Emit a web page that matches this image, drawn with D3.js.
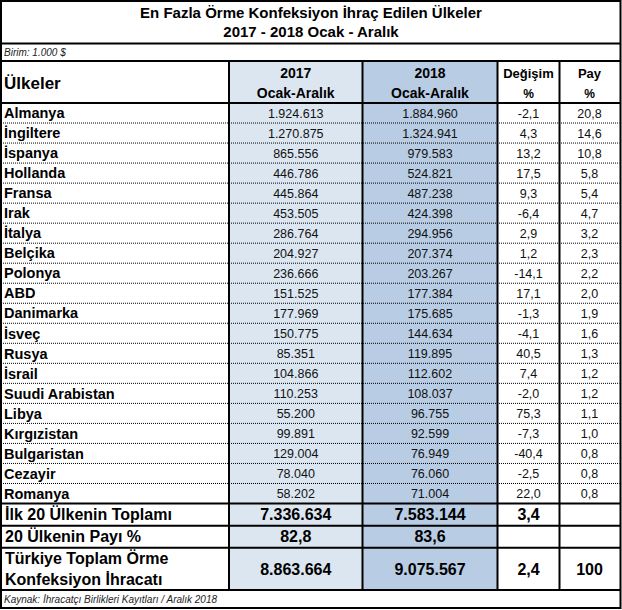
<!DOCTYPE html>
<html><head><meta charset="utf-8">
<script src="https://cdn.jsdelivr.net/npm/d3@7"></script>
<style>body{margin:0;background:#fff}svg{display:block;font-family:"Liberation Sans",Arial,sans-serif}</style>
</head><body>
<script>
const countries = ["Almanya","İngiltere","İspanya","Hollanda","Fransa","Irak","İtalya","Belçika","Polonya","ABD","Danimarka","İsveç","Rusya","İsrail","Suudi Arabistan","Libya","Kırgızistan","Bulgaristan","Cezayir","Romanya"];
const v2017 = [1924613,1270875,865556,446786,445864,453505,286764,204927,236666,151525,177969,150775,85351,104866,110253,55200,99891,129004,78040,58202];
const v2018 = [1884960,1324941,979583,524821,487238,424398,294956,207374,203267,177384,175685,144634,119895,112602,108037,96755,92599,76949,76060,71004];
const change = [-2.1,4.3,13.2,17.5,9.3,-6.4,2.9,1.2,-14.1,17.1,-1.3,-4.1,40.5,7.4,-2.0,75.3,-7.3,-40.4,-2.5,22.0];
const share = [20.8,14.6,10.8,5.8,5.4,4.7,3.2,2.3,2.2,2.0,1.9,1.6,1.3,1.2,1.2,1.1,1.0,0.8,0.8,0.8];
const titleLines = ["En Fazla Örme Konfeksiyon İhraç Edilen Ülkeler","2017 - 2018 Ocak - Aralık"];
const unitNote = "Birim: 1.000 $";
const sourceNote = "Kaynak: İhracatçı Birlikleri Kayıtları / Aralık 2018";
const headers = [["Ülkeler"],["2017","Ocak-Aralık"],["2018","Ocak-Aralık"],["Değişim","%"],["Pay","%"]];
const totalLabels = [["İlk 20 Ülkenin Toplamı"],["20 Ülkenin Payı %"],["Türkiye Toplam Örme","Konfeksiyon İhracatı"]];
const total2017 = [7336634, 82.8, 8863664];
const total2018 = [7583144, 83.6, 9075567];
const totalChange = [3.4, null, 2.4];
const totalShare = [null, null, 100];

const W=622,H=610;
const loc = d3.formatLocale({decimal:",",thousands:".",grouping:[3],currency:["","$"],minus:"-"});
const fInt = loc.format(",d"), f1 = loc.format(".1f");
const fTot = v => v==null ? "" : (Number.isInteger(v) && v>1000 ? fInt(v) : (v===100? "100" : f1(v)));

const svg = d3.select("body").append("svg").attr("width",W).attr("height",H);

const colEdges = [1,229,362.5,497.5,559.5,619.5];
const colX = i => colEdges[i], colW = i => colEdges[i+1]-colEdges[i], colC = i => (colEdges[i]+colEdges[i+1])/2;
const yTitleBot=43.5, yBirimBot=61, yHeadBot=103;
const rowScale = d3.scaleBand().domain(countries).range([yHeadBot,503.5]);
const totEdges = [503.5,525.7,547.7,590];
const yBottom = 608;
const fills = ["#fff","#dce6f1","#b8cce4","#fff","#fff"];

for(let c=1;c<=2;c++){
  svg.append("rect").attr("x",colX(c)).attr("y",yBirimBot).attr("width",colW(c)).attr("height",totEdges[3]-yBirimBot).attr("fill",fills[c]);
}

svg.append("g").selectAll("text").data(titleLines).join("text")
  .attr("x",W/2).attr("y",(d,i)=>18+i*19).attr("text-anchor","middle")
  .attr("font-size",15).attr("font-weight","bold").text(d=>d);
svg.append("text").attr("x",4).attr("y",56).attr("font-size",10).attr("font-style","italic").attr("fill","#222").text(unitNote);
svg.append("text").attr("x",4).attr("y",603).attr("font-size",10).attr("font-style","italic").attr("fill","#222").text(sourceNote);

const hSizes=[17,14,14,13,13];
headers.forEach((h,i)=>{
  if(i===0){ svg.append("text").attr("font-weight","bold").attr("font-size",hSizes[0]).attr("x",4).attr("y",89).text(h[0]); return; }
  h.forEach((s,j)=>{
    svg.append("text").attr("x",colC(i)).attr("y",78+j*20).attr("text-anchor","middle")
      .attr("font-weight","bold").attr("font-size", j===1 && i>=3 ? 12 : hSizes[i]).text(s);
  });
});

const rows = svg.append("g").selectAll("g").data(countries).join("g")
  .attr("transform",d=>`translate(0,${rowScale(d)+rowScale.bandwidth()/2})`);
rows.append("text").attr("x",4).attr("dy","0.36em").attr("font-size",14.5).attr("font-weight","bold").text(d=>d);
const cellVals = (d,i)=>[fInt(v2017[i]),fInt(v2018[i]),f1(change[i]),f1(share[i])];
rows.each(function(d,i){
  d3.select(this).selectAll("text.v").data(cellVals(d,i)).join("text").attr("class","v")
    .attr("x",(v,k)=>colC(k+1)).attr("dy","0.4em").attr("text-anchor","middle")
    .attr("font-size",12.5).attr("fill","#111").text(v=>v);
});

totalLabels.forEach((lab,i)=>{
  const y0=totEdges[i], y1=totEdges[i+1], cy=(y0+y1)/2;
  lab.forEach((s,j)=>{
    svg.append("text").attr("x",5).attr("y",cy+(j-(lab.length-1)/2)*21).attr("dy","0.36em")
      .attr("font-size",16).attr("font-weight","bold").text(s);
  });
  [total2017[i],total2018[i],totalChange[i],totalShare[i]].forEach((v,k)=>{
    if(v==null) return;
    svg.append("text").attr("x",colC(k+1)).attr("y",cy).attr("dy","0.36em").attr("text-anchor","middle")
      .attr("font-size",16).attr("font-weight","bold").text(fTot(v));
  });
});

const line=(x1,y1,x2,y2,w,dash)=>svg.append("line").attr("x1",x1).attr("y1",y1).attr("x2",x2).attr("y2",y2)
  .attr("stroke","#000").attr("stroke-width",w).attr("stroke-dasharray",dash||null);
countries.slice(1).forEach(c=>{ const y=rowScale(c); line(colEdges[0],y,colEdges[5],y,1,"1,1"); });
line(colEdges[0],483.5,colEdges[5],483.5,1,"1,1");
[yTitleBot,yBirimBot,yHeadBot,...totEdges].forEach(y=>line(0,y,621,y,2));
colEdges.slice(1,5).forEach(x=>line(x,yBirimBot,x,totEdges[3],2));
svg.append("rect").attr("x",1).attr("y",1).attr("width",619.5).attr("height",yBottom-1).attr("fill","none").attr("stroke","#000").attr("stroke-width",2);
</script>
</body></html>
